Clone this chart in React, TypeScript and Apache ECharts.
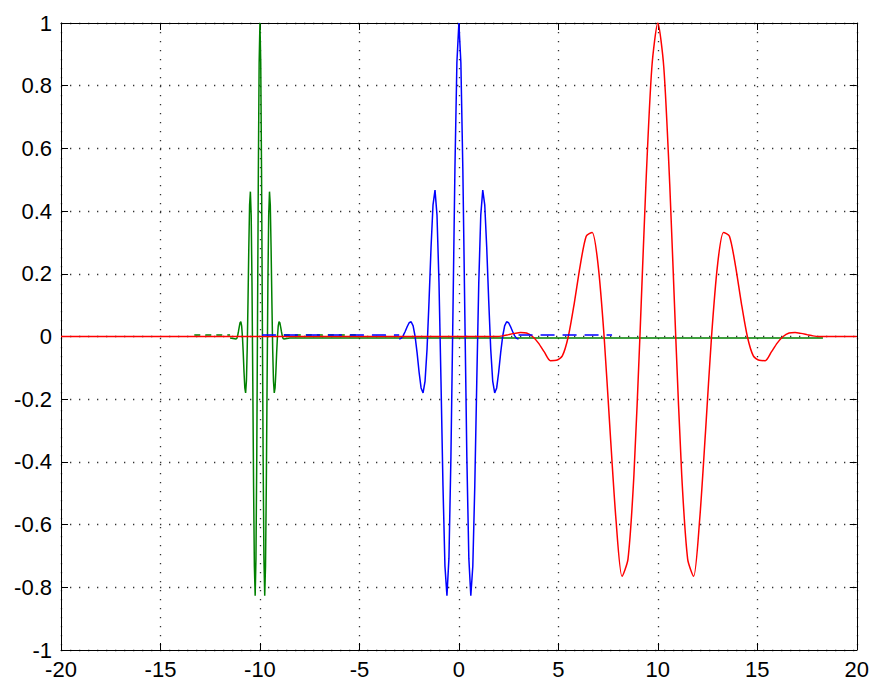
import React, { useEffect, useRef } from "react";
import * as echarts from "echarts";

// Blue wavelet (centred at 0)
const blueX = [-3.0, -2.9, -2.8, -2.7, -2.6, -2.5, -2.4, -2.3, -2.2, -2.1, -2.0, -1.9, -1.8, -1.7, -1.6, -1.5, -1.4, -1.3, -1.2, -1.1, -1.0, -0.9, -0.8, -0.7, -0.6, -0.5, -0.4, -0.3, -0.2, -0.1, 0.0, 0.1, 0.2, 0.3, 0.4, 0.5, 0.6, 0.7, 0.8, 0.9, 1.0, 1.1, 1.2, 1.3, 1.4, 1.5, 1.6, 1.7, 1.8, 1.9, 2.0, 2.1, 2.2, 2.3, 2.4, 2.5, 2.6, 2.7, 2.8, 2.9, 3.0];
const blueY = [-0.008, -0.006, 0.003, 0.016, 0.031, 0.044, 0.047, 0.034, 0.0, -0.052, -0.114, -0.164, -0.18, -0.142, -0.04, 0.113, 0.283, 0.42, 0.467, 0.387, 0.172, -0.141, -0.475, -0.733, -0.827, -0.707, -0.384, 0.068, 0.53, 0.873, 1.0, 0.873, 0.53, 0.068, -0.384, -0.707, -0.827, -0.733, -0.475, -0.141, 0.172, 0.387, 0.467, 0.42, 0.283, 0.113, -0.04, -0.142, -0.18, -0.164, -0.114, -0.052, 0.0, 0.034, 0.047, 0.044, 0.031, 0.016, 0.003, -0.006, -0.008];

// Blue near-zero dashed tails
const blueTailX = [-9.9, -3.0, null, 3.0, 7.7];
const blueTailY = [0.005, 0.005, null, 0.005, 0.005];

// Green wavelet (centred at -10)
const greenX = [-11.5, -11.2, -11.16, -11.12, -11.08, -11.04, -11.0, -10.96, -10.92, -10.88, -10.84, -10.8, -10.76, -10.72, -10.68, -10.64, -10.6, -10.56, -10.52, -10.48, -10.44, -10.4, -10.36, -10.32, -10.28, -10.24, -10.2, -10.16, -10.12, -10.08, -10.04, -10.0, -9.96, -9.92, -9.88, -9.84, -9.8, -9.76, -9.72, -9.68, -9.64, -9.6, -9.56, -9.52, -9.48, -9.44, -9.4, -9.36, -9.32, -9.28, -9.24, -9.2, -9.16, -9.12, -9.08, -9.04, -9.0, -8.96, -8.92, -8.88, -8.84, -8.8, -8.5, 18.3];
const greenY = [-0.005, -0.008, -0.006, 0.003, 0.016, 0.031, 0.044, 0.047, 0.034, 0.0, -0.052, -0.114, -0.164, -0.18, -0.142, -0.04, 0.113, 0.283, 0.42, 0.462, 0.387, 0.172, -0.141, -0.475, -0.733, -0.827, -0.707, -0.384, 0.068, 0.53, 0.873, 1.0, 0.873, 0.53, 0.068, -0.384, -0.707, -0.827, -0.733, -0.475, -0.141, 0.172, 0.387, 0.462, 0.42, 0.283, 0.113, -0.04, -0.142, -0.18, -0.164, -0.114, -0.052, 0.0, 0.034, 0.047, 0.044, 0.031, 0.016, 0.003, -0.006, -0.008, -0.005, -0.005];

// Green near-zero dashed tails
const greenTailX = [-13.3, -11.5, null, -8.8, -5.0];
const greenTailY = [0.005, 0.005, null, 0.005, 0.005];

// Red wavelet (centred at 10)
const redX = [-20, 1.6, 1.9, 2.2, 2.5, 2.8, 3.1, 3.4, 3.7, 4.0, 4.3, 4.6, 4.9, 5.2, 5.5, 5.8, 6.1, 6.4, 6.7, 7.0, 7.3, 7.6, 7.9, 8.2, 8.5, 8.8, 9.1, 9.4, 9.7, 10.0, 10.3, 10.6, 10.9, 11.2, 11.5, 11.8, 12.1, 12.4, 12.7, 13.0, 13.3, 13.6, 13.9, 14.2, 14.5, 14.8, 15.1, 15.4, 15.7, 16.0, 16.3, 16.6, 16.9, 17.2, 17.5, 17.8, 18.1, 18.4, 20];
const redY = [0, 0, 0, 0.002, 0.006, 0.01, 0.013, 0.011, 0, -0.021, -0.05, -0.077, -0.076, -0.062, 0, 0.106, 0.227, 0.32, 0.332, 0.227, 0, -0.301, -0.587, -0.765, -0.71, -0.44, 0, 0.484, 0.859, 1.0, 0.859, 0.484, 0, -0.44, -0.71, -0.765, -0.587, -0.301, 0, 0.227, 0.332, 0.32, 0.227, 0.106, 0, -0.062, -0.076, -0.077, -0.05, -0.021, 0, 0.011, 0.013, 0.01, 0.006, 0.002, 0, 0, 0];

const pairs = (xs: (number | null)[], ys: (number | null)[]) =>
  xs.map((x, i) => (x === null ? [null, null] : [x, ys[i]]));

const FONT = "'Liberation Sans', Arial, sans-serif";

export default function App() {
  const ref = useRef<HTMLDivElement>(null);
  useEffect(() => {
    if (!ref.current) return;
    const chart = echarts.init(ref.current, undefined, { renderer: "svg" });
    const axisLine = { show: true, onZero: false, lineStyle: { color: "#000", width: 1 } };
    const tick = { show: true, inside: true, length: 7, lineStyle: { color: "#000", width: 1 } };
    const split = { show: true, lineStyle: { color: "#333", width: 1.3, type: [1.3, 7.7] as any } };
    const label = { color: "#000", fontSize: 22, fontFamily: FONT };
    chart.setOption({
      animation: false,
      backgroundColor: "#fff",
      grid: { left: 61, right: 14, top: 23, bottom: 32, containLabel: false },
      xAxis: [
        {
          type: "value", min: -20, max: 20, interval: 5, position: "bottom",
          axisLine, axisTick: tick, splitLine: split,
          axisLabel: { ...label, margin: 8 },
        },
        {
          type: "value", min: -20, max: 20, interval: 5, position: "top",
          axisLine, axisTick: tick, splitLine: { show: false }, axisLabel: { show: false },
        },
      ],
      yAxis: [
        {
          type: "value", min: -1, max: 1, interval: 0.2, position: "left",
          axisLine, axisTick: tick, splitLine: split,
          axisLabel: { ...label, margin: 9 },
        },
        {
          type: "value", min: -1, max: 1, interval: 0.2, position: "right",
          axisLine, axisTick: tick, splitLine: { show: false }, axisLabel: { show: false },
        },
      ],
      series: [
        {
          type: "line", data: pairs(greenTailX, greenTailY), showSymbol: false, connectNulls: false,
          lineStyle: { color: "#008000", width: 1.5, type: [6, 5] as any },
        },
        {
          type: "line", data: pairs(greenX, greenY), showSymbol: false,
          lineStyle: { color: "#008000", width: 1.5 },
        },
        {
          type: "line", data: pairs(blueX, blueY), showSymbol: false,
          lineStyle: { color: "#0000ff", width: 1.5 },
        },
        {
          type: "line", data: pairs(redX, redY), showSymbol: false, smooth: 0.25,
          lineStyle: { color: "#ff0000", width: 1.5 },
        },
        {
          type: "line", data: pairs(blueTailX, blueTailY), showSymbol: false, connectNulls: false,
          lineStyle: { color: "#0000ff", width: 1.5, type: [14, 8] as any },
        },
      ],
    });
    return () => chart.dispose();
  }, []);
  return (
    <div
      ref={ref}
      style={{ position: "fixed", left: 0, top: 0, width: 872, height: 682, background: "#fff" }}
    />
  );
}
